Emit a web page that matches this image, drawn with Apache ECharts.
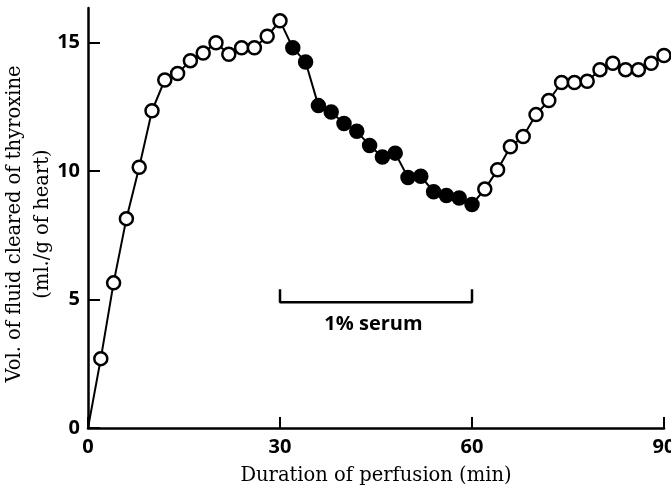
<!DOCTYPE html>
<html>
<head>
<meta charset="utf-8">
<script src="https://cdn.jsdelivr.net/npm/echarts@6/dist/echarts.min.js"></script>
<style>
html, body { margin: 0; background: #fff; }
#chart { width: 671px; height: 495px; }
</style>
</head>
<body>
<div id="chart"></div>
<script>
// readings every 2 min
var minutes = [0, 2, 4, 6, 8, 10, 12, 14, 16, 18, 20, 22, 24, 26, 28, 30,
    32, 34, 36, 38, 40, 42, 44, 46, 48, 50, 52, 54, 56, 58, 60,
    62, 64, 66, 68, 70, 72, 74, 76, 78, 80, 82, 84, 86, 88, 90];
var volume = [0, 2.7, 5.65, 8.15, 10.15, 12.35, 13.55, 13.8, 14.3, 14.6, 15.0, 14.55, 14.8, 14.8, 15.25, 15.85,
    14.8, 14.25, 12.55, 12.3, 11.85, 11.55, 11.0, 10.55, 10.7, 9.75, 9.8, 9.2, 9.05, 8.95, 8.7,
    9.3, 10.05, 10.95, 11.35, 12.2, 12.75, 13.45, 13.45, 13.5, 13.95, 14.2, 13.95, 13.95, 14.2, 14.5];
// serum period (filled circles)
var serumFrom = 32;
var serumTo = 60;
// bracket under the curve
var bracketX = [30, 30, 60, 60];
var bracketY = [5.4, 4.9, 4.9, 5.4];
var bracketLabel = '1% serum';
var labelPos = [44.6, 4.05];

var xTicks = [0, 30, 60, 90];
var yTicks = [0, 5, 10, 15];

var chart = echarts.init(document.getElementById('chart'));

var points = minutes.map(function (t, i) {
    var filled = t >= serumFrom && t <= serumTo;
    return {
        value: [t, volume[i]],
        symbol: i === 0 ? 'none' : 'circle',
        itemStyle: { color: filled ? '#000' : '#fff' }
    };
});

var tickFont = { color: '#000', fontFamily: 'Open Sans', fontWeight: 'bold', fontSize: 20 };

chart.setOption({
    animation: false,
    backgroundColor: '#fff',
    grid: { left: 88, right: 7, top: 8, bottom: 67, outerBoundsMode: 'none', containLabel: false },
    xAxis: {
        type: 'value',
        min: 0,
        max: 90,
        interval: 30,
        name: 'Duration of perfusion (min)',
        nameLocation: 'middle',
        nameGap: 38,
        nameMoveOverlap: false,
        nameTextStyle: { color: '#000', fontFamily: 'DejaVu Serif', fontSize: 19.5 },
        axisLine: { lineStyle: { color: '#000', width: 2.5 } },
        axisTick: { inside: true, length: 11, lineStyle: { color: '#000', width: 2 } },
        axisLabel: Object.assign({ margin: 9, customValues: xTicks }, tickFont),
        splitLine: { show: false }
    },
    yAxis: {
        type: 'value',
        min: 0,
        max: 16.35,
        name: 'Vol. of fluid cleared of thyroxine\n(ml./g of heart)',
        nameLocation: 'middle',
        nameRotate: 90,
        nameGap: 31,
        nameMoveOverlap: false,
        nameTextStyle: {
            color: '#000', fontFamily: 'DejaVu Serif', fontSize: 19.5,
            lineHeight: 28, padding: [0, 12, 0, 0]
        },
        axisLine: { lineStyle: { color: '#000', width: 2.5 } },
        axisTick: { inside: true, length: 12, customValues: yTicks, lineStyle: { color: '#000', width: 2 } },
        axisLabel: Object.assign({ margin: 8, customValues: yTicks }, tickFont),
        splitLine: { show: false }
    },
    series: [
        {
            type: 'line',
            data: points,
            clip: false,
            symbolSize: 13,
            lineStyle: { color: '#000', width: 2 },
            itemStyle: { borderColor: '#000', borderWidth: 2.5 },
            z: 3
        },
        {
            type: 'line',
            data: bracketX.map(function (x, i) { return [x, bracketY[i]]; }),
            symbol: 'none',
            lineStyle: { color: '#000', width: 2.5 }
        },
        {
            type: 'scatter',
            data: [labelPos],
            symbolSize: 0,
            itemStyle: { color: '#000', opacity: 1 },
            label: {
                show: true,
                position: 'inside',
                formatter: bracketLabel,
                color: '#000',
                opacity: 1,
                textBorderWidth: 0,
                fontFamily: 'Open Sans',
                fontWeight: 'bold',
                fontSize: 20
            }
        }
    ]
});
</script>
</body>
</html>
